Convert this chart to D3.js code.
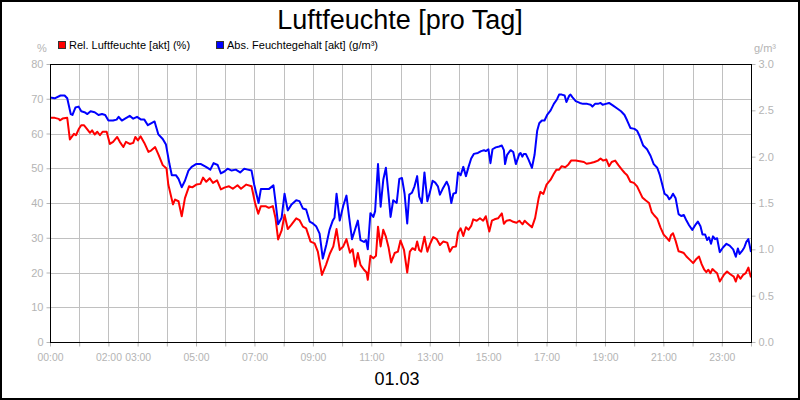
<!DOCTYPE html>
<html><head><meta charset="utf-8">
<script src="https://cdn.jsdelivr.net/npm/d3@7"></script>
<style>body{margin:0;background:#fff}svg{display:block;font-family:"Liberation Sans",Arial,sans-serif}</style>
</head><body><svg id="c" width="800" height="400"></svg>
<script>
const title = "Luftfeuchte [pro Tag]";
const dateLabel = "01.03";
const legendLabels = ["Rel. Luftfeuchte [akt] (%)", "Abs. Feuchtegehalt [akt] (g/m³)"];
const xTickLabels = ["00:00","02:00","03:00","05:00","07:00","09:00","11:00","13:00","15:00","17:00","19:00","21:00","23:00"];
const xTickHours = [0,2,3,5,7,9,11,13,15,17,19,21,23];
const leftTicks = [0,10,20,30,40,50,60,70,80];
const rightTicks = [0.0,0.5,1.0,1.5,2.0,2.5,3.0];

// Relative humidity (%) : time (hours) and value
const relTimes = [0.00,0.16,0.30,0.34,0.43,0.59,0.68,0.82,0.89,0.98,1.07,1.16,1.25,1.37,1.44,1.53,1.62,1.71,1.80,1.94,2.05,2.16,2.30,2.39,2.51,2.60,2.73,2.85,2.92,3.01,3.10,3.23,3.37,3.46,3.60,3.71,3.86,3.99,4.05,4.21,4.28,4.40,4.51,4.62,4.76,4.87,5.01,5.15,5.24,5.35,5.47,5.58,5.72,5.85,5.99,6.13,6.26,6.42,6.54,6.72,6.90,7.02,7.13,7.22,7.38,7.49,7.63,7.72,7.81,7.93,
8.03,8.14,8.26,8.43,8.54,8.66,8.77,8.92,9.06,9.17,9.31,9.45,9.58,9.70,9.81,9.92,10.04,10.15,10.27,10.36,10.45,10.54,10.63,10.75,10.84,10.88,10.97,11.07,11.16,11.23,11.32,11.41,11.50,11.59,11.68,11.80,11.91,12.00,12.12,12.23,12.32,12.41,12.50,12.57,12.64,12.71,12.82,12.92,13.01,13.12,13.24,13.35,13.46,13.60,13.69,13.78,13.90,13.97,14.06,14.15,14.24,14.33,14.42,14.49,14.61,14.72,14.83,14.92,15.04,15.13,15.22,15.34,15.47,15.54,15.63,15.75,15.86,15.97,16.07,
16.11,16.18,16.25,16.34,16.50,16.61,16.73,16.79,16.89,17.00,17.14,17.25,17.34,17.43,17.52,17.64,17.75,17.84,18.00,18.14,18.28,18.37,18.51,18.64,18.76,18.85,18.94,19.05,19.14,19.23,19.35,19.46,19.58,19.67,19.76,19.87,19.99,20.10,20.19,20.28,20.40,20.51,20.60,20.69,20.79,20.90,21.01,21.10,21.20,21.26,21.33,21.42,21.52,21.61,21.70,21.79,21.90,22.02,22.13,22.22,22.31,22.40,22.47,22.54,22.61,22.68,22.77,22.84,22.93,23.07,23.18,23.29,23.41,23.48,23.55,23.64,23.73,23.82,23.91,24.00];
const relValues = [64.5,64.5,64.2,63.8,64.3,64.5,58.3,59.9,59.5,61.2,62.4,62.4,61.5,60.2,60.9,59.7,60.5,59.5,60.5,60.5,57,57.6,59,57.6,56.1,57.6,57,57.3,59,58,59.2,57.3,54.7,55.1,56.1,54,50.9,49.9,45.3,39.6,41,40.5,36.2,41.4,44.8,44.5,45.3,45.5,47.3,46.1,47.1,45.8,46.5,43.9,44.5,44.8,44.1,45.1,44.1,45.3,44.8,40,36.9,39.1,39.1,38.6,39.1,35.7,29.5,32.1,
36.6,32.5,33.7,35.6,35.1,33.2,32.7,28.9,28.4,26,19.3,22.2,25.4,27.5,32.5,26.5,27.5,29.6,25.7,26.7,21.7,25.6,22.2,20.8,20,17.9,24.8,24.1,24.8,33.2,27.5,32.3,30.3,27.3,22.9,25.6,26,29.2,26.5,20,26,27,26.5,28.9,26.5,26,30.3,26,28.2,30.2,29.6,27.9,28.9,28.6,26,27.3,27.5,31.5,32.7,30.5,33,32.3,33.4,35.3,34.9,35.6,34.9,36.2,31.8,34.9,35.3,35.6,37,34,34.9,35.1,34.6,34.3,34.9,
34.5,33.9,34.9,34.2,33,35.7,41.4,43.2,42.6,45.3,46.7,48.4,49.6,49.6,50.6,50.3,51.1,52.2,52.2,52,51.8,51.3,51.5,51.8,52.2,52.8,52.2,52.5,50.6,51.8,52.2,50.9,49.6,48.7,48,46.1,45.8,44.8,43.2,41.6,40.7,40,37.4,36.4,35.5,33,30.9,30.1,29.1,30.7,31.3,29.1,26.1,25.9,25.6,24.6,23.7,22.7,23.9,24.6,22.4,20.8,20.1,20.8,19.8,21,20.3,19.8,17.4,19.3,20.3,19.5,18.8,17.4,19.3,18.2,19.3,19.8,21.4,18.6];

// Absolute humidity (g/m³) : time (hours) and value
const absTimes = [0.00,0.16,0.36,0.50,0.59,0.71,0.77,0.87,0.98,1.07,1.18,1.28,1.39,1.53,1.66,1.78,1.89,2.00,2.16,2.28,2.35,2.46,2.57,2.73,2.85,2.98,3.12,3.23,3.35,3.46,3.58,3.71,3.86,3.97,4.09,4.17,4.31,4.40,4.51,4.62,4.74,4.85,5.00,5.17,5.34,5.49,5.60,5.74,5.85,5.97,6.08,6.22,6.36,6.51,6.65,6.77,6.90,6.99,7.14,7.22,7.36,7.49,7.65,7.73,7.81,7.93,
8.03,8.14,8.26,8.43,8.54,8.66,8.77,8.89,9.00,9.11,9.23,9.34,9.46,9.57,9.68,9.74,9.81,9.92,10.04,10.15,10.24,10.34,10.45,10.54,10.63,10.75,10.82,10.88,10.97,11.07,11.13,11.23,11.32,11.41,11.50,11.59,11.66,11.75,11.87,11.96,12.05,12.14,12.23,12.30,12.39,12.48,12.57,12.64,12.73,12.82,12.92,13.01,13.10,13.19,13.28,13.35,13.44,13.58,13.65,13.74,13.81,13.90,13.97,14.06,14.15,14.24,14.33,14.42,14.51,14.65,14.76,14.86,14.92,15.01,15.08,15.15,15.26,15.38,15.47,15.54,15.58,15.65,15.77,15.86,15.95,16.07,
16.11,16.17,16.22,16.29,16.38,16.50,16.59,16.68,16.75,16.84,16.93,17.02,17.14,17.25,17.36,17.43,17.52,17.62,17.68,17.78,17.82,17.89,18.00,18.14,18.25,18.39,18.51,18.57,18.66,18.76,18.85,18.92,19.03,19.14,19.28,19.42,19.55,19.67,19.76,19.87,20.01,20.10,20.19,20.31,20.44,20.56,20.67,20.79,20.88,20.97,21.04,21.13,21.20,21.26,21.33,21.42,21.52,21.61,21.70,21.79,21.88,21.99,22.11,22.18,22.27,22.34,22.43,22.50,22.56,22.63,22.70,22.77,22.84,22.93,23.04,23.16,23.27,23.39,23.48,23.55,23.61,23.71,23.77,23.84,23.91,24.00];
const absValues = [2.64,2.63,2.66,2.66,2.63,2.46,2.45,2.53,2.54,2.49,2.48,2.46,2.49,2.48,2.45,2.46,2.45,2.39,2.39,2.40,2.43,2.39,2.41,2.44,2.41,2.43,2.40,2.40,2.34,2.36,2.38,2.24,2.19,2.13,1.92,1.80,1.80,1.76,1.67,1.74,1.85,1.89,1.92,1.92,1.89,1.86,1.93,1.91,1.82,1.84,1.87,1.85,1.86,1.83,1.87,1.86,1.85,1.70,1.50,1.65,1.65,1.65,1.69,1.49,1.27,1.34,
1.60,1.42,1.48,1.53,1.52,1.44,1.43,1.30,1.28,1.25,1.17,0.90,1.05,1.21,1.31,1.34,1.60,1.31,1.47,1.58,1.35,1.11,1.22,1.31,1.10,1.08,1.10,1.00,1.39,1.35,1.41,1.92,1.46,1.75,1.88,1.59,1.35,1.53,1.50,1.76,1.77,1.60,1.28,1.59,1.61,1.68,1.79,1.57,1.50,1.83,1.52,1.62,1.74,1.72,1.68,1.59,1.65,1.73,1.68,1.50,1.60,1.61,1.83,1.80,1.89,1.79,1.89,1.98,2.03,2.04,2.06,2.07,2.06,2.08,1.93,2.08,2.10,2.11,2.12,2.07,1.92,2.02,2.07,2.05,1.92,2.03,
2.04,2.00,2.03,2.03,1.97,1.88,2.02,2.28,2.36,2.39,2.39,2.45,2.50,2.57,2.62,2.67,2.67,2.66,2.59,2.66,2.67,2.64,2.60,2.58,2.57,2.57,2.56,2.54,2.57,2.57,2.58,2.56,2.57,2.58,2.55,2.52,2.49,2.45,2.39,2.31,2.30,2.28,2.22,2.12,2.08,2.01,1.92,1.88,1.80,1.69,1.60,1.58,1.54,1.56,1.60,1.55,1.38,1.36,1.37,1.31,1.26,1.21,1.27,1.30,1.25,1.16,1.16,1.10,1.13,1.06,1.14,1.11,1.12,0.97,1.02,1.06,1.04,1.00,0.92,1.01,0.95,0.99,1.02,1.08,1.11,0.97];

const svg = d3.select("#c");
const L = 50, R = 751, T = 64, B = 342;
const gray = "#b4b4b4";
const x = d3.scaleLinear().domain([0,24]).range([L,R]);
const yL = d3.scaleLinear().domain([0,80]).range([B,T]);
const yR = d3.scaleLinear().domain([0,3]).range([B,T]);

svg.append("rect").attr("x",1).attr("y",1).attr("width",798).attr("height",398)
  .attr("fill","#fff").attr("stroke","#000").attr("stroke-width",2);

// grid
const hours = d3.range(0,25);
svg.append("g").selectAll("line").data(hours.slice(1,24)).join("line")
  .attr("x1",d=>Math.round(x(d))+0.5).attr("x2",d=>Math.round(x(d))+0.5)
  .attr("y1",T).attr("y2",B).attr("stroke","#c0c0c0").attr("stroke-width",1);
svg.append("g").selectAll("line").data(leftTicks.slice(1,-1)).join("line")
  .attr("y1",d=>Math.round(yL(d))+0.5).attr("y2",d=>Math.round(yL(d))+0.5)
  .attr("x1",L).attr("x2",R).attr("stroke","#c0c0c0").attr("stroke-width",1);

// axes
const axL = svg.append("g").attr("transform",`translate(${L+0.5},0)`)
  .call(d3.axisLeft(yL).tickValues(leftTicks).tickSize(4).tickPadding(3).tickSizeOuter(0));
const axR = svg.append("g").attr("transform",`translate(${R+0.5},0)`)
  .call(d3.axisRight(yR).tickValues(rightTicks).tickSize(4).tickPadding(3).tickSizeOuter(0).tickFormat(d3.format(".1f")));
const axB = svg.append("g").attr("transform",`translate(0,${B+0.5})`)
  .call(d3.axisBottom(x).tickValues(hours).tickSize(4).tickPadding(4).tickSizeOuter(0).tickFormat(()=>""));
const axBL = svg.append("g").attr("transform",`translate(0,${B+0.5})`)
  .call(d3.axisBottom(x).tickValues(xTickHours).tickSize(0).tickPadding(11).tickFormat((d,i)=>xTickLabels[i]));
[axL,axR,axB,axBL].forEach(a=>{
  a.select(".domain").remove();
  a.selectAll(".tick line").attr("stroke",gray);
  a.selectAll("text").attr("fill",gray).attr("font-size",11).attr("font-family","Liberation Sans, Arial, sans-serif");
});
axBL.selectAll("text").attr("font-size",10.4);

// lines
const clip = svg.append("clipPath").attr("id","pc").append("rect").attr("x",L).attr("y",T).attr("width",R-L).attr("height",B-T);
const relData = relTimes.map((t,i)=>[t,relValues[i]]);
const absData = absTimes.map((t,i)=>[t,absValues[i]]);
svg.append("path").datum(relData).attr("clip-path","url(#pc)")
  .attr("d",d3.line().x(d=>x(d[0])).y(d=>yL(d[1])))
  .attr("fill","none").attr("stroke","#ff0000").attr("stroke-width",2).attr("stroke-linejoin","round");
svg.append("path").datum(absData).attr("clip-path","url(#pc)")
  .attr("d",d3.line().x(d=>x(d[0])).y(d=>yR(d[1])))
  .attr("fill","none").attr("stroke","#0000ff").attr("stroke-width",2).attr("stroke-linejoin","round");

// frame
svg.append("rect").attr("x",L+0.5).attr("y",T+0.5).attr("width",R-L).attr("height",B-T)
  .attr("fill","none").attr("stroke","#000").attr("stroke-width",1);

// texts
svg.append("text").attr("x",400).attr("y",29).attr("text-anchor","middle")
  .attr("font-size",27).attr("fill","#000").text(title);
svg.append("text").attr("x",397).attr("y",385).attr("text-anchor","middle")
  .attr("font-size",18).attr("fill","#000").text(dateLabel);
svg.append("text").attr("x",42).attr("y",52).attr("text-anchor","middle")
  .attr("font-size",11).attr("fill",gray).text("%");
svg.append("text").attr("x",765).attr("y",52).attr("text-anchor","middle")
  .attr("font-size",11).attr("fill",gray).text("g/m³");

const legColors = ["#ff0000","#0000ff"];
const legX = [58,216];
legendLabels.forEach((lab,i)=>{
  svg.append("rect").attr("x",legX[i]+0.5).attr("y",41.5).attr("width",7).attr("height",7)
    .attr("fill",legColors[i]).attr("stroke","#333").attr("stroke-width",1);
  svg.append("text").attr("x",legX[i]+11).attr("y",49).attr("font-size",11).attr("fill","#000").text(lab);
});
</script></body></html>
